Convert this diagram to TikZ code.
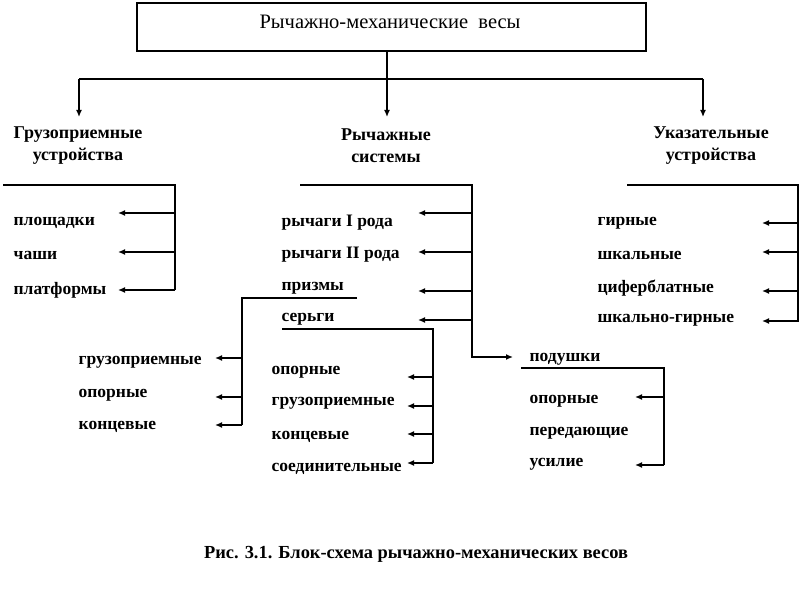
\documentclass[tikz,border=0pt]{standalone}
\usepackage{fontspec}
\setmainfont{Liberation Serif}
\usetikzlibrary{arrows.meta}
\begin{document}
\begin{tikzpicture}[x=1pt, y=-1pt, line width=1.3pt, >={Latex[length=7pt,width=6pt]},
  item/.style={anchor=west, inner sep=0pt, yshift=-3.5pt, font=\bfseries\fontsize{17.5}{20}\selectfont},
  head/.style={align=center, inner sep=0pt, font=\bfseries\fontsize{18}{22}\selectfont}]
\useasboundingbox (0,0) rectangle (801,591);
% title box
\node[draw, line width=1.8pt, minimum width=509pt, minimum height=48pt, inner sep=0pt] (title) at (391.5,27) {};
\node[font=\fontsize{20.5}{24}\selectfont] (ttext) at (390,22) {Рычажно-механические\ \ весы};
% headers
\node[head] (hgruz) at (78,146) {Грузоприемные\\устройства};
\node[head] (hsys) at (386,146) {Рычажные\\системы};
\node[head] (hukaz) at (711,146) {Указательные\\устройства};
\coordinate (jL) at (79,79);
\coordinate (jR) at (703,79);
\draw (jL) -- (jR);
\draw[->] (jL) -- (jL |- 0,117);
\draw[->] (jR) -- (jR |- 0,117);
\draw[->] (title.south -| hsys) ++(1,0) -- (387,117);
% grain receiving devices
\draw (3,185) -- (175,185) -- (175,290);
\foreach \t/\ty/\ay [count=\i] in {площадки/219/213, чаши/252/252, платформы/287/290} {
  \node[item] (gr\i) at (13,\ty) {\t};
  \draw[->] (175,\ay) -- (118,\ay);
}
% lever systems
\draw[->] (300,185) -- (472,185) -- (472,357) -- (513,357);
\foreach \t/\ty/\ay [count=\i] in {рычаги I рода/219/213, рычаги II рода/251/252, призмы/285/291, серьги/316/320} {
  \node[item] (ls\i) at (281,\ty) {\t};
  \draw[->] (472,\ay) -- (418,\ay);
}
% prisms
\draw (357,298) -- (242,298) -- (242,425);
\foreach \t/\ty/\ay [count=\i] in {грузоприемные/359/358, опорные/392/397, концевые/423/425} {
  \node[item] (pr\i) at (78,\ty) {\t};
  \draw[->] (242,\ay) -- (215,\ay);
}
% earrings
\draw (282,329) -- (433,329) -- (433,463);
\foreach \t/\ty/\ay [count=\i] in {опорные/369/377, грузоприемные/400/406, концевые/433/434, соединительные/465/463} {
  \node[item] (se\i) at (271,\ty) {\t};
  \draw[->] (433,\ay) -- (407,\ay);
}
% pads
\node[item] (pod) at (529,356) {подушки};
\draw (521,368) -- (664,368) -- (664,465);
\foreach \t/\ty in {опорные/398, передающие/430, усилие/461} {
  \node[item] at (529,\ty) {\t};
}
\draw[->] (664,397) -- (635,397);
\draw[->] (664,465) -- (635,465);
% indicating devices
\draw (627,185) -- (798,185) -- (798,322);
\foreach \t/\ty/\ay [count=\i] in {гирные/220/223, шкальные/252/252, циферблатные/285/291, шкально-гирные/317/321} {
  \node[item] (uk\i) at (597,\ty) {\t};
  \draw[->] (798,\ay) -- (762,\ay);
}
% caption
\node[font=\bfseries\fontsize{18.4}{21}\selectfont] (cap) at (416,554) {Рис. 3.1. Блок-схема рычажно-механических весов};
\end{tikzpicture}
\end{document}
